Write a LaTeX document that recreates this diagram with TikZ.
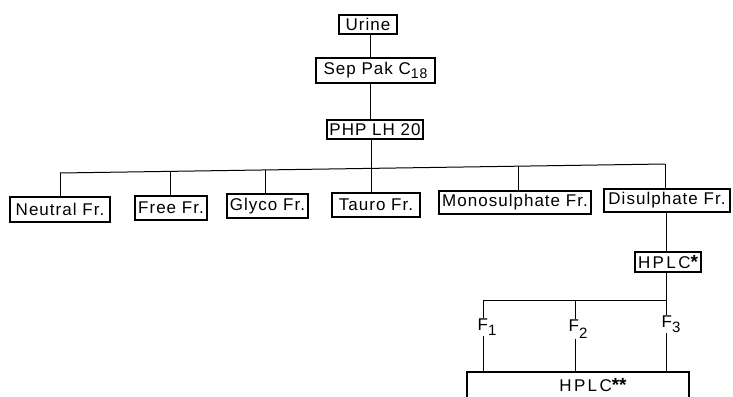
\documentclass[tikz,border=0pt]{standalone}
\usepackage{fontspec}
\setmainfont[LetterSpace=6]{Liberation Sans}
\newfontfamily\widefont[LetterSpace=14]{Liberation Sans}
\newcommand{\bigast}{\raisebox{0.1ex}{\fontsize{19}{19}\selectfont\bfseries *}}
\begin{document}
\begin{tikzpicture}[x=1pt,y=-1pt,
  bx/.style={draw,line width=1.2pt,inner sep=0pt,font=\fontsize{17}{19}\selectfont},
  lbl/.style={inner sep=0pt,font=\fontsize{17}{19}\selectfont},
  ln/.style={line width=1pt}]
\clip (0,0) rectangle (733,396);
\fill[white] (0,0) rectangle (733,396);
% top chain
\node[bx,minimum width=58,minimum height=19] (urine) at (368,24.5) {Urine};
\node[bx,minimum width=119,minimum height=25] (sep) at (375.5,70.5) {Sep Pak C\raisebox{-0.4ex}{\fontsize{14}{15}\selectfont 18}};
\node[bx,minimum width=96,minimum height=19] (php) at (375,129.5) {PHP LH 20};
% fractions row
\node[bx,minimum width=100,minimum height=25] (neu) at (60,209.5) {Neutral Fr.};
\node[bx,minimum width=72,minimum height=24] (free) at (171,208) {Free Fr.};
\node[bx,minimum width=81,minimum height=24] (gly) at (267.5,206) {Glyco Fr.};
\node[bx,minimum width=88,minimum height=24] (tau) at (376,205) {Tauro Fr.};
\node[bx,minimum width=152,minimum height=23] (mono) at (515,202.5) {Monosulphate Fr.};
\node[bx,minimum width=126,minimum height=23] (dis) at (667,200.5) {Disulphate Fr.};
% HPLC*
\node[bx,minimum width=66,minimum height=20] (hplc) at (668,262) {{\widefont HPLC}\bigast};
% F labels
\node[lbl] (f1) at (487,327) {F\raisebox{-0.6ex}{\fontsize{15}{16}\selectfont 1}};
\node[lbl] (f2) at (578,329) {F\raisebox{-0.8ex}{\fontsize{15}{16}\selectfont 2}};
\node[lbl] (f3) at (671,324) {F\raisebox{-0.6ex}{\fontsize{15}{16}\selectfont 3}};
% HPLC** box (open at bottom, runs off the page)
\node[draw,line width=1.2pt,inner sep=0pt,minimum width=222,minimum height=48] (hb) at (578,396) {};
\node[lbl] (hbt) at (593,385) {{\widefont HPLC}\bigast\bigast};
% coordinates
\coordinate (tx) at (370,0);
\coordinate (b1) at (60,173);
\coordinate (b2) at (170,171.4);
\coordinate (b3) at (265,169.9);
\coordinate (b4) at (371,168.4);
\coordinate (b5) at (518,166.2);
\coordinate (b6) at (665,164);
\coordinate (c) at (666,300);
\coordinate (d) at (483,300);
\coordinate (e) at (575,300);
% connectors
\draw[ln] (urine.south -| tx) -- (sep.north -| tx);
\draw[ln] (sep.south -| tx) -- (php.north -| tx);
\draw[ln] (php.south -| b4) -- (b4 |- tau.north);
\draw[ln] (b1) -- (b6);
\draw[ln] (b1) -- (b1 |- neu.north);
\draw[ln] (b2) -- (b2 |- free.north);
\draw[ln] (b3) -- (b3 |- gly.north);
\draw[ln] (b5) -- (b5 |- mono.north);
\draw[ln] (b6) -- (b6 |- dis.north);
\draw[ln] (dis.south -| c) -- (hplc.north -| c);
\draw[ln] (hplc.south -| c) -- (c);
\draw[ln] (d) -- (c);
\draw[ln] (d) -- (d |- f1.north);
\draw[ln] (e) -- (e |- f2.north);
\draw[ln] (c) -- (c |- f3.north);
\draw[ln] (d |- f1.south) -- (d |- hb.north);
\draw[ln] (e |- f2.south) -- (e |- hb.north);
\draw[ln] (c |- f3.south) -- (c |- hb.north);
\end{tikzpicture}
\end{document}
